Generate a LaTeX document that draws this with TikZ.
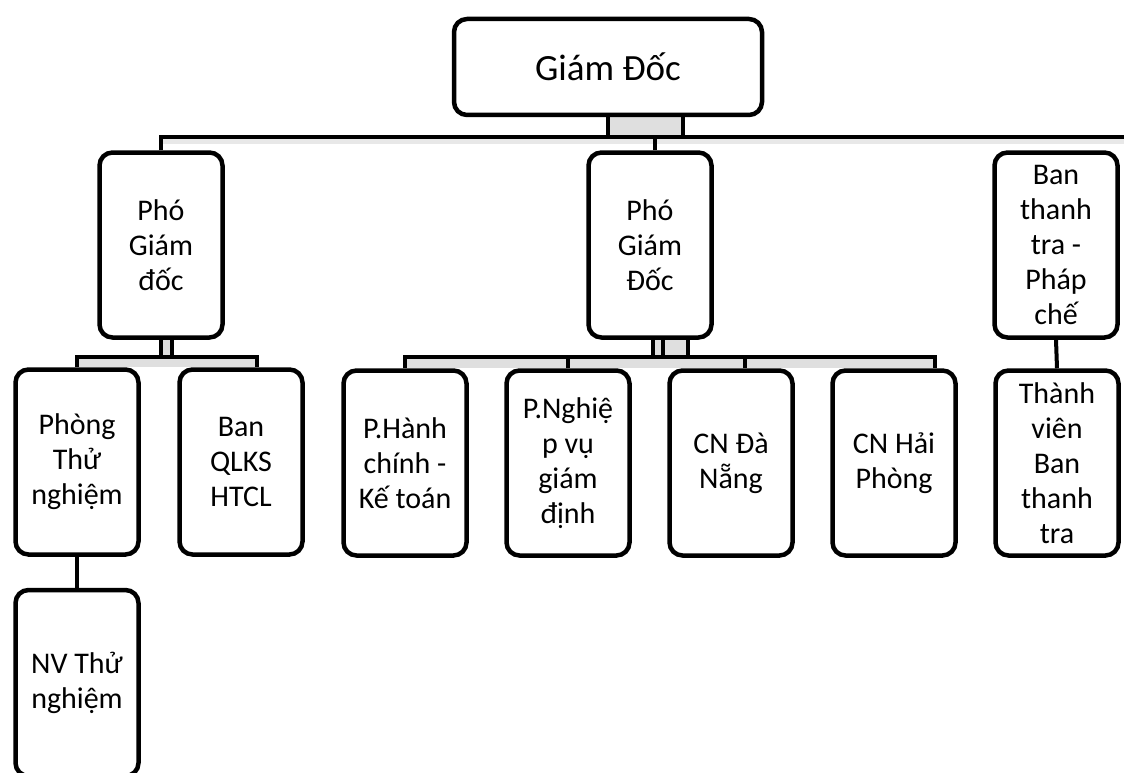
\documentclass[tikz,border=0pt]{standalone}
\usepackage{fontspec}
\setmainfont{Carlito}
\usetikzlibrary{positioning,backgrounds}

\tikzset{
    orgbox/.style={draw, line width=4.5pt, rounded corners=13pt, fill=white,
        align=center, inner sep=0pt, minimum width=123pt, minimum height=185pt,
        font=\fontsize{30}{35}\selectfont},
    link/.style={line width=4pt},
    band/.style={fill=gray!25, draw=none},
}

\begin{document}
\begin{tikzpicture}[x=1pt, y=-1pt]
    \useasboundingbox (0,0) rectangle (1124,773);

    % Top level
    \node[orgbox, minimum width=308pt, minimum height=96pt,
        font=\fontsize{37}{42}\selectfont] (gd) at (608,67) {Giám Đốc};

    % Second level
    \node[orgbox] (pgd1) at (161,245) {Phó\\Giám\\đốc};
    \node[orgbox] (pgd2) at (650,245) {Phó\\Giám\\Đốc};
    \node[orgbox] (btt) at (1056,245) {Ban\\thanh\\tra -\\Pháp\\chế};

    % Third level
    \node[orgbox] (ptn) at (77,462) {Phòng\\Thử\\nghiệm};
    \node[orgbox] (qlks) at (241,462) {Ban\\QLKS\\HTCL};
    \node[orgbox] (phc) at (405,463) {P.Hành\\chính -\\Kế toán};
    \node[orgbox] (pnv) at (568,463) {P.Nghiệ\\p vụ\\giám\\định};
    \node[orgbox] (cndn) at (731,463) {CN Đà\\Nẵng};
    \node[orgbox] (cnhp) at (894,463) {CN Hải\\Phòng};
    \node[orgbox] (tv) at (1057,463) {Thành\\viên\\Ban\\thanh\\tra};

    % Fourth level
    \node[orgbox, minimum height=186pt] (nvtn) at (77,683) {NV Thử\\nghiệm};

    % Bus lines
    \coordinate (top bus) at (1124,137);
    \coordinate (left bus) at (0,357);
    \coordinate (mid bus) at (0,357);

    % Shadow bands
    \begin{scope}[on background layer]
        \fill[band, gray!18] (pgd1.north |- top bus) rectangle ([yshift=-7pt]top bus);
        \fill[band] (gd.south) rectangle ([xshift=75pt]gd.south |- top bus);
        \fill[band] (pgd1.south) rectangle ([xshift=11pt]pgd1.south |- left bus);
        \fill[band] (ptn.north |- left bus) rectangle ([xshift=16pt]qlks.north);
        \fill[band] ([xshift=3pt]pgd2.south) rectangle ([xshift=38pt]pgd2.south |- mid bus);
        \fill[band] (phc.north |- mid bus) rectangle ([xshift=41pt]cnhp.north);
    \end{scope}

    % Giám Đốc to the second level
    \draw[link] (gd.south) -- (gd.south |- top bus);
    \draw[link] ([xshift=75pt]gd.south) -- ([xshift=75pt]gd.south |- top bus);
    \draw[link] (pgd1.north) |- (top bus);
    \draw[link] ([xshift=5pt]pgd2.north) -- ([xshift=5pt]pgd2.north |- top bus);

    % Left branch
    \draw[link] (pgd1.south) -- (pgd1.south |- left bus);
    \draw[link] ([xshift=11pt]pgd1.south) -- ([xshift=11pt]pgd1.south |- left bus);
    \draw[link] (ptn.north) |- ([xshift=16pt]qlks.north |- left bus) -- ([xshift=16pt]qlks.north);
    \draw[link] (ptn.south) -- (nvtn.north);

    % Middle branch
    \foreach \dx in {3,13,38} {
        \draw[link] ([xshift=\dx pt]pgd2.south) -- ([xshift=\dx pt]pgd2.south |- mid bus);
    }
    \draw[link] (phc.north) |- ([xshift=41pt]cnhp.north |- mid bus) -- ([xshift=41pt]cnhp.north);
    \draw[link] (pnv.north) -- (pnv.north |- mid bus);
    \draw[link] ([xshift=14pt]cndn.north) -- ([xshift=14pt]cndn.north |- mid bus);

    % Right branch
    \draw[link] (btt.south) -- (tv.north);
\end{tikzpicture}
\end{document}
